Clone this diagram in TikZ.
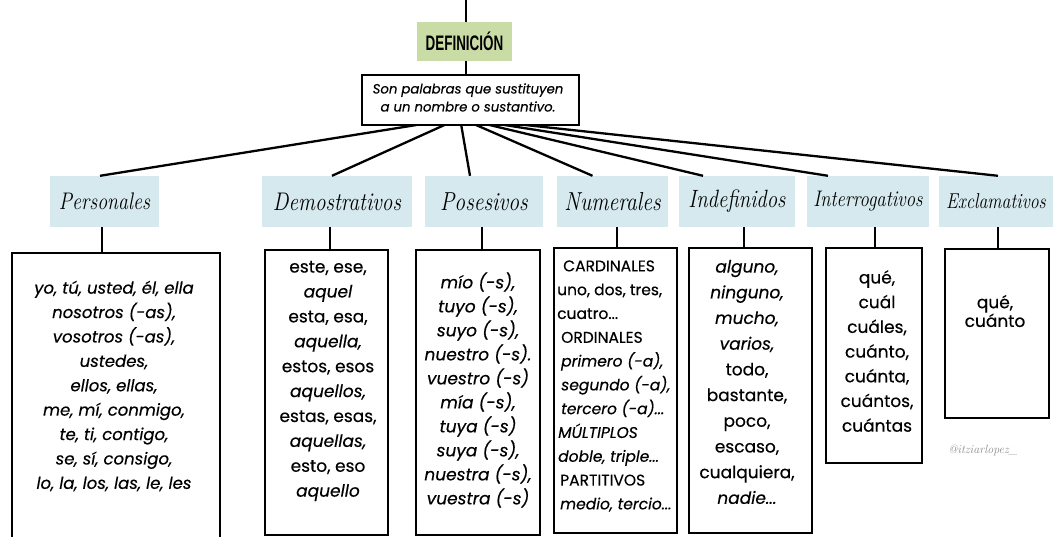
\documentclass[tikz,border=0pt]{standalone}
\usepackage{fontspec}
\newfontfamily\bodyfont[FakeBold=0.35]{Poppins}
\newfontfamily\headfont[FakeStretch=0.64]{Liberation Sans}
\newfontfamily\titlefont[FakeStretch=0.83]{Latin Modern Roman}
\definecolor{catblue}{HTML}{D6E9EE}
\definecolor{defgreen}{HTML}{C9DCA5}
\definecolor{markgray}{HTML}{8A8A8A}
\begin{document}
\begin{tikzpicture}[x=1pt,y=-1pt,
  cat/.style={fill=catblue, minimum height=51pt, inner sep=0pt},
  catfont/.style={font=\titlefont\fontsize{#1}{26}\selectfont\itshape},
  cbox/.style={draw=black, line width=2.6pt, inner sep=0pt, fill=white},
  ctext/.style={align=center, inner sep=0pt, font=\bodyfont\fontsize{17}{24.5}\selectfont},
  link/.style={line width=2.3pt},
]
\useasboundingbox (0,0) rectangle (1053,537);
\clip (0,0) rectangle (1053,537);

% hub and top
\coordinate (hub) at (460,118);
\coordinate (top) at (466,0);

% category titles
\node[cat, catfont=24, minimum width=109pt] (tPer) at (104.5,201.5) {Personales};
\node[cat, catfont=25.5, minimum width=150pt] (tDem) at (337,201.5) {Demostrativos};
\node[cat, catfont=26, minimum width=118pt] (tPos) at (484,201.5) {Posesivos};
\node[cat, catfont=26, minimum width=111pt] (tNum) at (612.5,201.5) {Numerales};
\node[cat, catfont=25, minimum width=116pt] (tInd) at (737,201.5) {Indefinidos};
\node[cat, catfont=22.5, minimum width=122pt] (tInt) at (868,201.5) {Interrogativos};
\node[cat, catfont=21.5, minimum width=114pt] (tExc) at (996,201.5) {Exclamativos};

% connectors from definition
\draw[link] (hub) -- ([xshift=-4.5pt]tPer.north);
\draw[link] (hub) -- ([xshift=-5pt]tDem.north);
\draw[link] (hub) -- ([xshift=-14pt]tPos.north);
\draw[link] (hub) -- ([xshift=-20pt]tNum.north);
\draw[link] (hub) -- ([xshift=-34pt]tInd.north);
\draw[link] (hub) -- ([xshift=-40pt]tInt.north);
\draw[link] (hub) -- ([xshift=2pt]tExc.north);

% definition boxes
\node[fill=defgreen, minimum width=95pt, minimum height=39pt, inner sep=0pt,
      font=\headfont\bfseries\fontsize{21}{22}\selectfont] (defn) at (464.5,41.5) {DEFINICIÓN};
\node[cbox, minimum width=217pt, minimum height=50pt] (def) at (470.5,100) {};
\node[ctext, font=\bodyfont\itshape\fontsize{13.3}{18}\selectfont] (defText) at (468,97.5)
  {Son palabras que sustituyen\\a un nombre o sustantivo.};
\draw[link] (top) -- (top |- defn.north);
\draw[link] (defn.south -| top) -- (top |- def.north);

% content boxes
\node[cbox, minimum width=208pt, minimum height=292pt] (bPer) at (116,399) {};
\node[cbox, minimum width=123pt, minimum height=285pt] (bDem) at (326.5,392.5) {};
\node[cbox, minimum width=124pt, minimum height=285pt] (bPos) at (478,392.5) {};
\node[cbox, minimum width=123pt, minimum height=285pt] (bNum) at (615.5,390.5) {};
\node[cbox, minimum width=123pt, minimum height=285pt] (bInd) at (750.5,390.5) {};
\node[cbox, minimum width=96pt, minimum height=215pt] (bInt) at (874,355.5) {};
\node[cbox, minimum width=104pt, minimum height=169pt] (bExc) at (997,333.5) {};

% vertical links
\draw[link] ([xshift=-2.5pt]tPer.south) -- ([xshift=-2.5pt]tPer.south |- bPer.north);
\draw[link] ([xshift=-7pt]tDem.south) -- ([xshift=-7pt]tDem.south |- bDem.north);
\draw[link] ([xshift=-2pt]tPos.south) -- ([xshift=-2pt]tPos.south |- bPos.north);
\draw[link] ([xshift=4.5pt]tNum.south) -- ([xshift=4.5pt]tNum.south |- bNum.north);
\draw[link] ([xshift=7pt]tInd.south) -- ([xshift=7pt]tInd.south |- bInd.north);
\draw[link] ([xshift=7pt]tInt.south) -- ([xshift=7pt]tInt.south |- bInt.north);
\draw[link] ([xshift=2pt]tExc.south) -- ([xshift=2pt]tExc.south |- bExc.north);

% texts
\node[ctext, font=\bodyfont\itshape\fontsize{16.5}{24.4}\selectfont] (xPer) at (114,386) {
  yo, tú, usted, él, ella\\ nosotros (-as),\\ vosotros (-as),\\ ustedes,\\ ellos, ellas,\\
  me, mí, conmigo,\\ te, ti, contigo,\\ se, sí, consigo,\\ lo, la, los, las, le, les};
\node[ctext, font=\bodyfont\fontsize{17}{24.9}\selectfont] (xDem) at (328,381) {
  este, ese,\\ \textit{aquel}\\ esta, esa,\\ \textit{aquella,}\\ estos, esos\\ \textit{aquellos,}\\
  estas, esas,\\ \textit{aquellas,}\\ esto, eso\\ \textit{aquello}};
\node[ctext, font=\bodyfont\itshape\fontsize{17}{24}\selectfont] (xPos) at (478,390) {
  mío (-s),\\ tuyo (-s),\\ suyo (-s),\\ nuestro (-s).\\ vuestro (-s)\\ mía (-s),\\
  tuya (-s)\\ suya (-s),\\ nuestra (-s),\\ vuestra (-s)};
\node[ctext, align=left, anchor=west, font=\bodyfont\fontsize{15.5}{23.8}\selectfont] (xNum) at (557,386) {
  \hspace*{6pt}CARDINALES\\ uno, dos, tres,\\ cuatro...\\ \hspace*{4pt}ORDINALES\\
  \hspace*{4pt}\textit{primero (-a),}\\ \hspace*{4pt}\textit{segundo (-a),}\\ \hspace*{4pt}\textit{tercero (-a)...}\\
  \hspace*{1pt}\textit{MÚLTIPLOS}\\ \hspace*{1pt}\textit{doble, triple...}\\ \hspace*{3pt}PARTITIVOS\\ \hspace*{3pt}\textit{medio, tercio...}};
\node[ctext, font=\bodyfont\fontsize{17}{25.7}\selectfont] (xInd) at (747,382) {
  \textit{alguno,}\\ \textit{ninguno,}\\ \textit{mucho,}\\ \textit{varios,}\\ todo,\\ bastante,\\
  poco,\\ escaso,\\ cualquiera,\\ \textit{nadie...}};
\node[ctext, font=\bodyfont\fontsize{17}{24.7}\selectfont] (xInt) at (877,351) {
  qué,\\ cuál\\ cuáles,\\ cuánto,\\ cuánta,\\ cuántos,\\ cuántas};
\node[ctext, font=\bodyfont\fontsize{17}{17}\selectfont] (xExc) at (995,311) {qué,\\ cuánto};

\node[text=markgray, font=\itshape\fontsize{12}{12}\selectfont, inner sep=0pt] (mark) at (983,450) {@itziarlopez\_};
\end{tikzpicture}
\end{document}
